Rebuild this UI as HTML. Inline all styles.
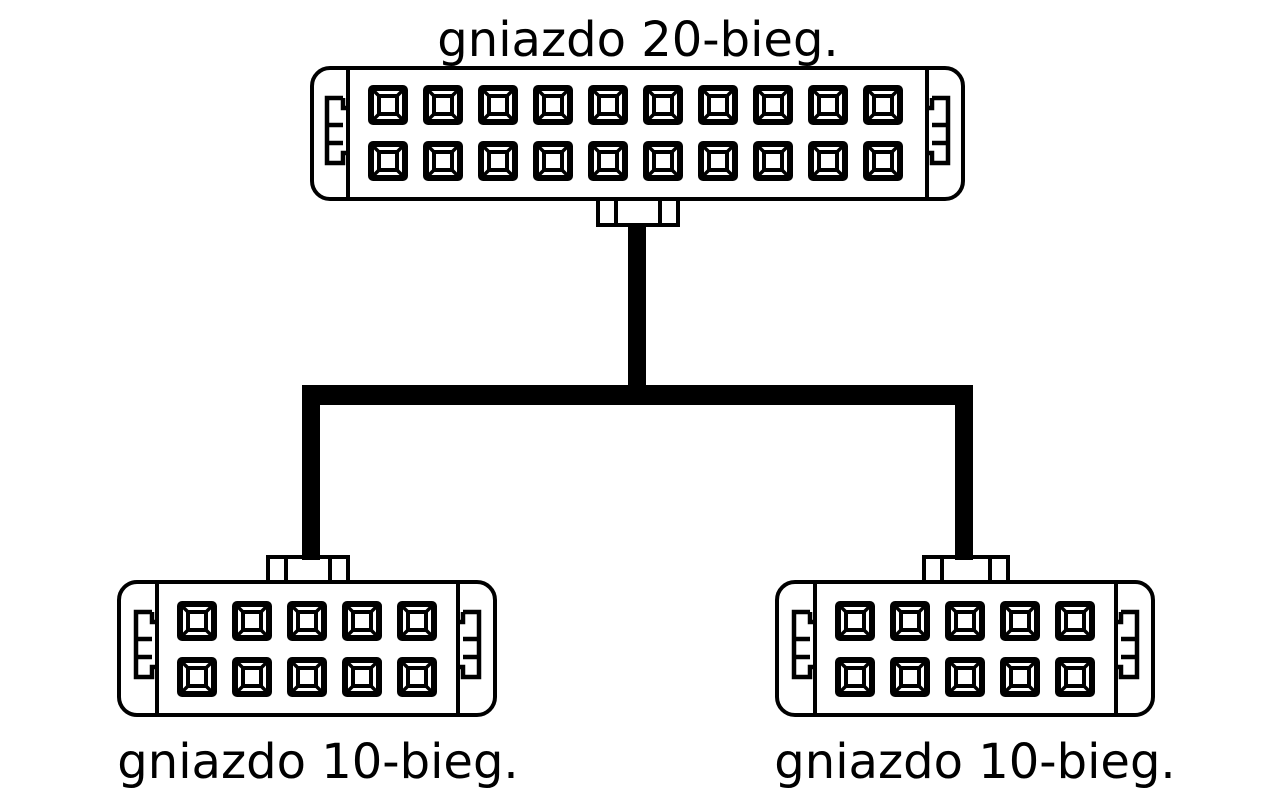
<!DOCTYPE html>
<html><head><style>body{margin:0;background:#fff}svg{display:block}</style></head><body>
<svg width="1288" height="789" viewBox="0 0 1288 789" xmlns="http://www.w3.org/2000/svg">
<defs>
<g id="pin">
<rect x="3" y="3" width="34" height="34" rx="2" fill="none" stroke="#000" stroke-width="6"/>
<rect x="11" y="11" width="18" height="18" fill="none" stroke="#000" stroke-width="4"/>
<path d="M4 4L11 11M36 4L29 11M4 36L11 29M36 36L29 29" stroke="#000" stroke-width="3.5"/>
</g>
<g id="latchL" fill="none" stroke="#000" stroke-width="4.5">
<path d="M16 0H0V65H16V55H21M16 65V55M16 0V10H21"/>
<path d="M0 27H16M0 45H16"/>
</g>
</defs>
<g font-family="'DejaVu Sans','Liberation Sans',sans-serif" font-size="48" text-anchor="middle" fill="#000">
<text x="638" y="56">gniazdo 20-bieg.</text>
<text x="318" y="778">gniazdo 10-bieg.</text>
<text x="975" y="778">gniazdo 10-bieg.</text>
</g>
<!-- wires -->
<rect x="628" y="226" width="18" height="170" fill="#000"/>
<rect x="302" y="385" width="671" height="20" fill="#000"/>
<rect x="302" y="395" width="18" height="165" fill="#000"/>
<rect x="955" y="395" width="18" height="165" fill="#000"/>
<g fill="none" stroke="#000" stroke-width="4">
<rect x="312" y="68" width="651" height="131" rx="18" fill="#fff"/>
<path d="M348 68V199M927 68V199"/>
<path d="M598 199V225H616V199M616 225H660M660 199V225H678V199"/>
<path d="M268 582V557H286V582M286 557H302M320 557H330M330 582V557H348V582"/>
<rect x="119" y="582" width="376" height="133" rx="18" fill="#fff"/>
<path d="M157 582V715M458 582V715"/>
<path d="M924 582V557H942V582M942 557H955M973 557H990M990 582V557H1008V582"/>
<rect x="777" y="582" width="376" height="133" rx="18" fill="#fff"/>
<path d="M815 582V715M1116 582V715"/>
</g>
<use href="#latchL" x="327" y="98"/>
<use href="#latchL" transform="translate(948 98) scale(-1 1)"/>
<use href="#latchL" x="136" y="612"/>
<use href="#latchL" transform="translate(479 612) scale(-1 1)"/>
<use href="#latchL" x="794" y="612"/>
<use href="#latchL" transform="translate(1137 612) scale(-1 1)"/>
<use href="#pin" x="368" y="85"/><use href="#pin" x="423" y="85"/><use href="#pin" x="478" y="85"/><use href="#pin" x="533" y="85"/><use href="#pin" x="588" y="85"/><use href="#pin" x="643" y="85"/><use href="#pin" x="698" y="85"/><use href="#pin" x="753" y="85"/><use href="#pin" x="808" y="85"/><use href="#pin" x="863" y="85"/>
<use href="#pin" x="368" y="141"/><use href="#pin" x="423" y="141"/><use href="#pin" x="478" y="141"/><use href="#pin" x="533" y="141"/><use href="#pin" x="588" y="141"/><use href="#pin" x="643" y="141"/><use href="#pin" x="698" y="141"/><use href="#pin" x="753" y="141"/><use href="#pin" x="808" y="141"/><use href="#pin" x="863" y="141"/>
<use href="#pin" x="177" y="601"/><use href="#pin" x="232" y="601"/><use href="#pin" x="287" y="601"/><use href="#pin" x="342" y="601"/><use href="#pin" x="397" y="601"/>
<use href="#pin" x="177" y="657"/><use href="#pin" x="232" y="657"/><use href="#pin" x="287" y="657"/><use href="#pin" x="342" y="657"/><use href="#pin" x="397" y="657"/>
<use href="#pin" x="835" y="601"/><use href="#pin" x="890" y="601"/><use href="#pin" x="945" y="601"/><use href="#pin" x="1000" y="601"/><use href="#pin" x="1055" y="601"/>
<use href="#pin" x="835" y="657"/><use href="#pin" x="890" y="657"/><use href="#pin" x="945" y="657"/><use href="#pin" x="1000" y="657"/><use href="#pin" x="1055" y="657"/>
</svg>
</body></html>
